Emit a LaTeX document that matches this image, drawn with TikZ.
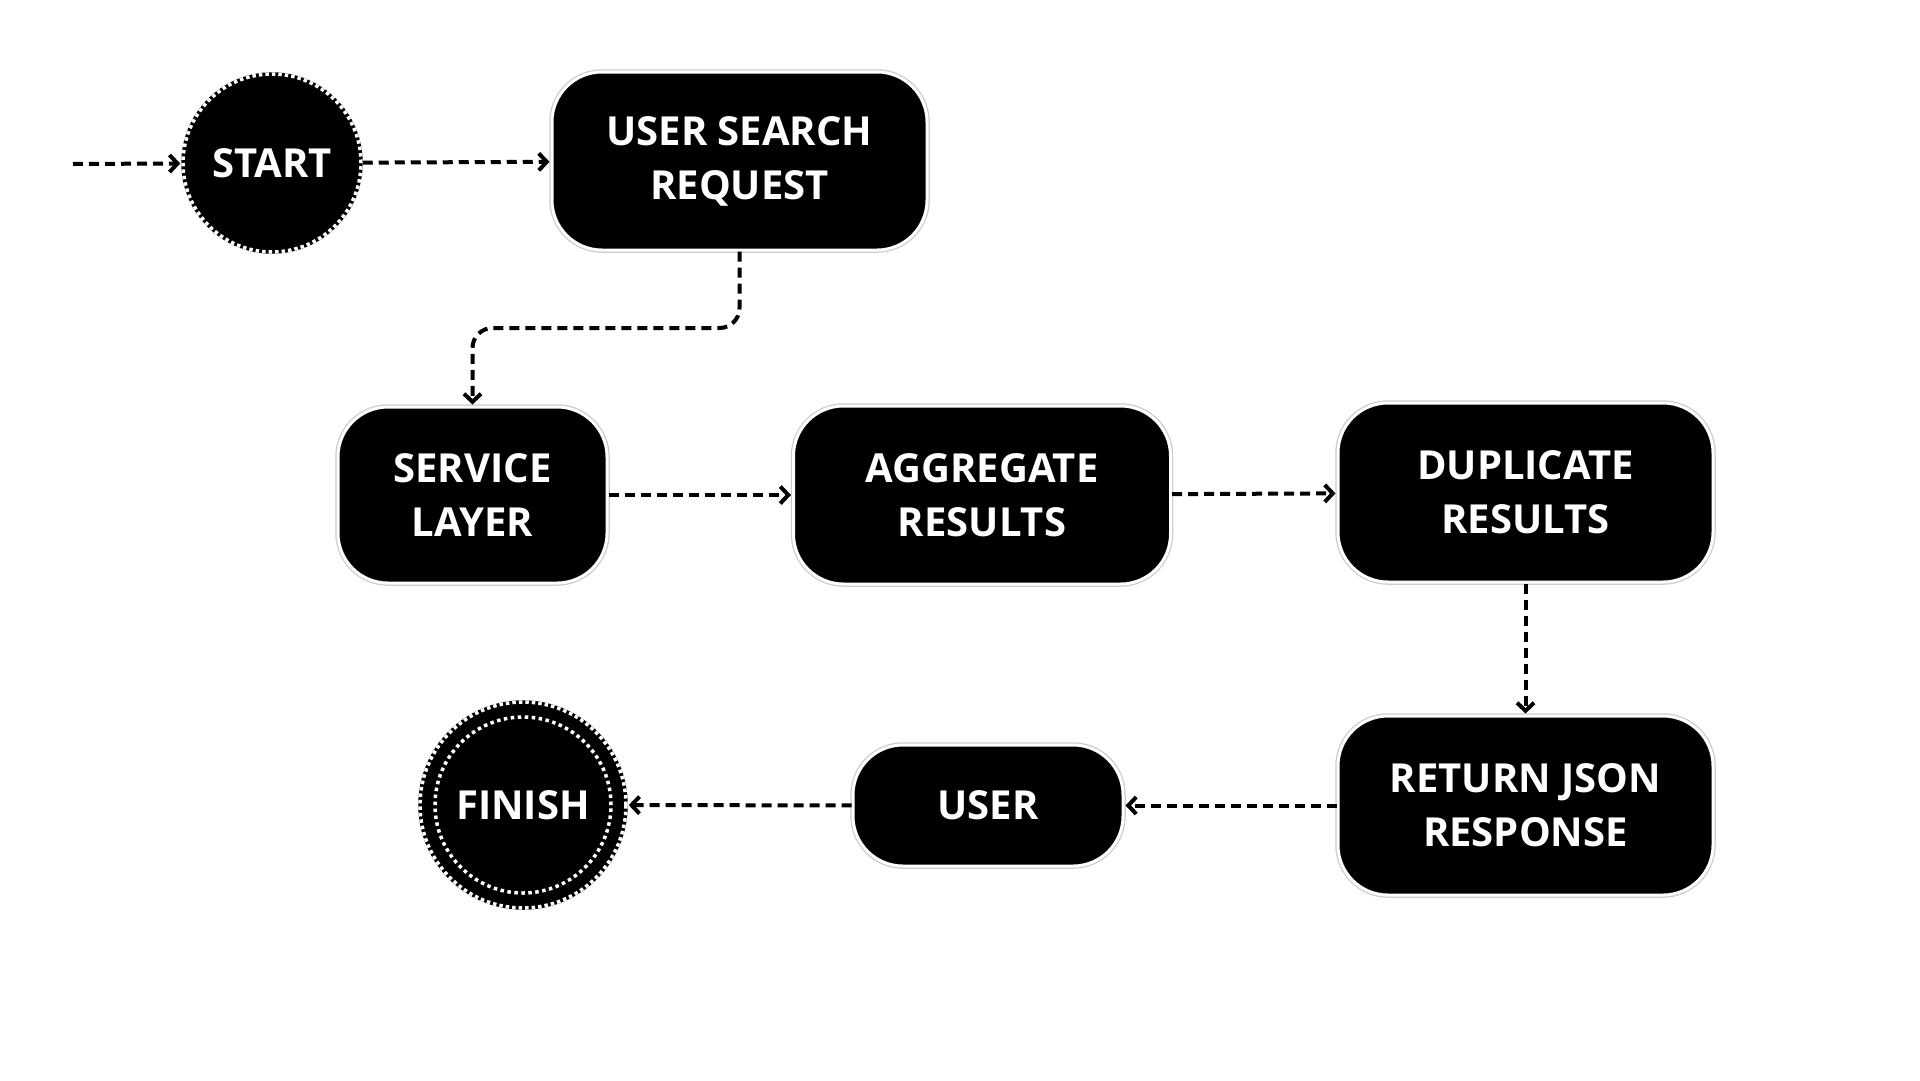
\documentclass[tikz,border=0pt]{standalone}
\usepackage{fontspec}
\newfontfamily\osfont{Open Sans}
\usetikzlibrary{arrows.meta}
\newcommand{\labfont}{\osfont\bfseries\fontsize{40}{54}\selectfont}
\tikzset{
  boxnode/.style={rectangle, rounded corners=50pt, fill=black, draw=white, line width=3pt,
    preaction={draw=gray!40, line width=5.5pt}, text=white, font=\labfont, align=center, inner sep=0pt},
  circnode/.style={circle, fill=black, draw=black, line width=3.5pt,
    postaction={draw=white, dash pattern=on 3.5pt off 3pt}, text=white, font=\labfont, inner sep=0pt},
  conn/.style={draw=black, line width=4pt, dash pattern=on 10pt off 6pt,
    -{Straight Barb[length=8pt,width=17pt,line width=4pt]}, shorten >=1pt, rounded corners=20pt}
}
\begin{document}
\begin{tikzpicture}[x=1pt,y=-1pt]
\useasboundingbox[fill=white] (0,0) rectangle (1920,1080);
\node[circnode, minimum size=178pt] (start) at (272,163) {START};
\node[boxnode, minimum width=375pt, minimum height=178pt] (usr) at (739.5,161) {USER SEARCH\\REQUEST};
\node[boxnode, minimum width=269pt, minimum height=176pt] (svc) at (472.5,495) {SERVICE\\LAYER};
\node[boxnode, minimum width=377pt, minimum height=178pt] (agg) at (982,495) {AGGREGATE\\RESULTS};
\node[boxnode, minimum width=375pt, minimum height=179pt] (dup) at (1525.5,492.5) {DUPLICATE\\RESULTS};
\node[boxnode, minimum width=375pt, minimum height=179pt] (ret) at (1525.5,805.5) {RETURN JSON\\RESPONSE};
\node[boxnode, minimum width=270pt, minimum height=121pt] (user) at (988,805.5) {USER};
\node[circnode, minimum size=206pt] (fin) at (523,805) {FINISH};
\draw[white, line width=3.5pt, dash pattern=on 3.5pt off 3.5pt] (fin.center) circle (88pt);
\coordinate (in) at (73,164);
\coordinate (bend) at (600,328);
\draw[conn] (in) -- (start);
\draw[conn] (start) -- (usr);
\draw[conn] (usr.south) |- (bend) -| (svc.north);
\draw[conn] (svc) -- (agg);
\draw[conn] (agg) -- (dup);
\draw[conn] (dup) -- (ret);
\draw[conn] (ret) -- (user);
\draw[conn] (user) -- (fin);
\end{tikzpicture}
\end{document}
